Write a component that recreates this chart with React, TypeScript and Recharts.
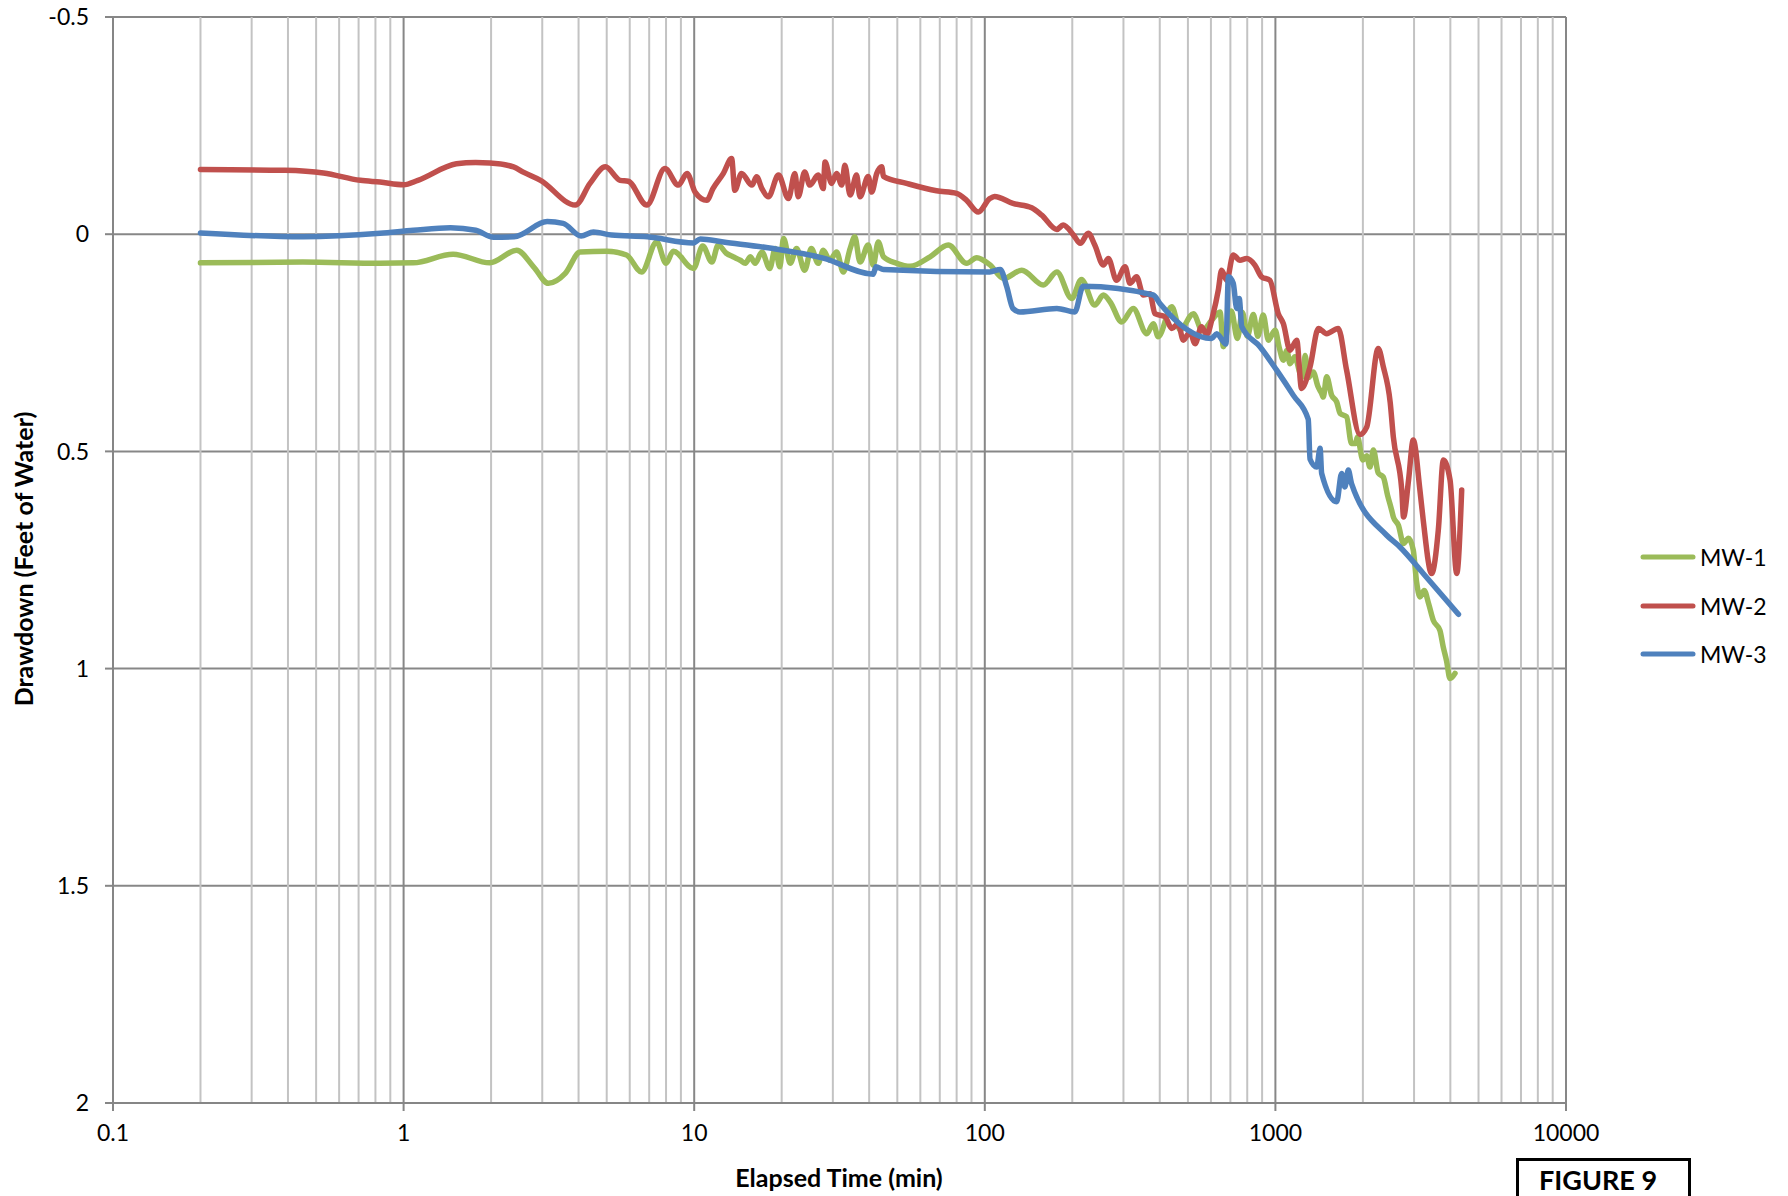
import React from 'react';
import { LineChart, Line, XAxis, YAxis, CartesianGrid, ReferenceLine } from 'recharts';

// elapsed time (min) vs drawdown (ft)
const MW1: [number, number][] = [
  [0.2, 0.066], [0.45, 0.064], [0.83, 0.067], [1.08, 0.066], [1.48, 0.046], [1.98, 0.066],
  [2.45, 0.037], [2.8, 0.075], [3.15, 0.113], [3.6, 0.09], [4.05, 0.041], [5.0, 0.039],
  [5.85, 0.048], [6.59, 0.087], [7.43, 0.018], [8.0, 0.067], [8.47, 0.039], [9.94, 0.079],
  [10.7, 0.027], [11.5, 0.064], [12.1, 0.025], [12.9, 0.044], [13.6, 0.052], [14.4, 0.06],
  [15.0, 0.067], [15.6, 0.052], [16.2, 0.067], [17.1, 0.041], [18.2, 0.079], [19.0, 0.033],
  [19.7, 0.075], [20.3, 0.01], [21.4, 0.067], [22.5, 0.033], [24.0, 0.083], [25.3, 0.033],
  [26.7, 0.067], [27.8, 0.037], [29.3, 0.06], [30.9, 0.041], [32.6, 0.087], [34.4, 0.033],
  [35.7, 0.006], [37.2, 0.064], [39.7, 0.025], [41.3, 0.071], [43.0, 0.018], [44.8, 0.052],
  [49.8, 0.067], [55.3, 0.074], [64.8, 0.052], [74.9, 0.025], [86.6, 0.067], [93.8, 0.054],
  [104, 0.07], [116, 0.102], [134, 0.083], [159, 0.117], [177, 0.087], [199, 0.148],
  [215, 0.104], [239, 0.163], [256, 0.14], [270, 0.156], [296, 0.202], [324, 0.171],
  [361, 0.229], [380, 0.206], [395, 0.236], [440, 0.167], [470, 0.22], [522, 0.183],
  [560, 0.222], [604, 0.198], [645, 0.179], [662, 0.259], [705, 0.177], [740, 0.24],
  [770, 0.18], [800, 0.235], [840, 0.185], [870, 0.235], [908, 0.186], [946, 0.244],
  [998, 0.221], [1030, 0.26], [1065, 0.29], [1095, 0.268], [1123, 0.298], [1167, 0.282],
  [1216, 0.32], [1248, 0.328], [1265, 0.279], [1300, 0.33], [1349, 0.317], [1400, 0.35],
  [1443, 0.367], [1461, 0.375], [1501, 0.328], [1560, 0.37], [1625, 0.386], [1671, 0.413],
  [1758, 0.42], [1828, 0.482], [1888, 0.482], [1915, 0.467], [2000, 0.52], [2061, 0.51],
  [2115, 0.536], [2173, 0.497], [2260, 0.55], [2351, 0.559], [2430, 0.6], [2511, 0.635],
  [2546, 0.651], [2650, 0.67], [2760, 0.712], [2870, 0.7], [2981, 0.727], [3060, 0.8],
  [3143, 0.835], [3250, 0.82], [3366, 0.85], [3495, 0.889], [3682, 0.912], [3780, 0.95],
  [3878, 0.981], [3990, 1.023], [4150, 1.011],
];

const MW2: [number, number][] = [
  [0.2, -0.149], [0.39, -0.147], [0.53, -0.141], [0.71, -0.124], [0.83, -0.12], [1.0, -0.114],
  [1.12, -0.124], [1.52, -0.162], [1.77, -0.165], [1.98, -0.164], [2.39, -0.155], [2.58, -0.143],
  [2.96, -0.124], [3.9, -0.067], [4.38, -0.117], [4.95, -0.155], [5.56, -0.124], [5.93, -0.122],
  [6.87, -0.067], [7.93, -0.151], [8.82, -0.113], [9.45, -0.14], [10.07, -0.097], [11.05, -0.078],
  [11.6, -0.105], [12.6, -0.14], [13.45, -0.174], [13.8, -0.101], [14.55, -0.14], [15.8, -0.113],
  [16.4, -0.132], [17.1, -0.105], [18.0, -0.086], [19.5, -0.136], [21.1, -0.082], [22.2, -0.14],
  [22.8, -0.086], [24.0, -0.143], [25.0, -0.113], [26.7, -0.136], [27.8, -0.105], [28.2, -0.166],
  [29.7, -0.117], [30.9, -0.14], [32.2, -0.113], [33.0, -0.159], [34.4, -0.09], [36.2, -0.136],
  [37.2, -0.086], [39.7, -0.133], [40.8, -0.097], [42.5, -0.14], [44.2, -0.155], [44.8, -0.133],
  [53.8, -0.117], [68.2, -0.1], [80.0, -0.094], [86.6, -0.078], [95, -0.051], [104, -0.082],
  [108, -0.087], [125, -0.071], [145, -0.061], [157, -0.044], [177, -0.011], [186, -0.021],
  [202, 0.002], [213, 0.021], [227, -0.002], [239, 0.025], [256, 0.071], [266, 0.056],
  [284, 0.106], [304, 0.075], [316, 0.113], [333, 0.098], [351, 0.14], [370, 0.137],
  [385, 0.183], [417, 0.19], [440, 0.217], [463, 0.206], [482, 0.244], [508, 0.225],
  [529, 0.252], [557, 0.213], [580, 0.231], [611, 0.183], [636, 0.129], [653, 0.083],
  [680, 0.106], [716, 0.048], [755, 0.06], [796, 0.056], [850, 0.071], [896, 0.098],
  [957, 0.106], [1023, 0.183], [1065, 0.206], [1123, 0.267], [1184, 0.244], [1230, 0.355],
  [1316, 0.305], [1406, 0.217], [1501, 0.229], [1645, 0.217], [1758, 0.313], [1954, 0.461],
  [2061, 0.444], [2259, 0.263], [2351, 0.305], [2483, 0.387], [2546, 0.467], [2722, 0.589],
  [2760, 0.651], [2872, 0.566], [2981, 0.474], [3143, 0.589], [3226, 0.658], [3448, 0.781],
  [3636, 0.681], [3784, 0.52], [3990, 0.566], [4207, 0.781], [4376, 0.589],
];

const MW3: [number, number][] = [
  [0.2, -0.003], [0.45, 0.006], [0.83, -0.002], [1.08, -0.009], [1.45, -0.015], [1.77, -0.009],
  [2.04, 0.007], [2.4, 0.006], [3.12, -0.029], [3.54, -0.025], [4.08, 0.004], [4.5, -0.005],
  [5.2, 0.002], [6.9, 0.006], [9.94, 0.02], [10.5, 0.011], [12.6, 0.018], [18.7, 0.033],
  [27.8, 0.055], [41.3, 0.092], [42.2, 0.075], [44.8, 0.081], [104, 0.087], [113, 0.081],
  [119, 0.121], [125, 0.171], [132, 0.179], [177, 0.171], [204, 0.179], [218, 0.12],
  [380, 0.14], [401, 0.16], [604, 0.24], [628, 0.229], [676, 0.253], [689, 0.098],
  [716, 0.113], [736, 0.171], [751, 0.148], [766, 0.213], [885, 0.259], [1010, 0.313],
  [1153, 0.371], [1297, 0.426], [1316, 0.518], [1387, 0.536], [1425, 0.493], [1443, 0.551],
  [1625, 0.616], [1690, 0.551], [1734, 0.582], [1782, 0.543], [1828, 0.574], [2415, 0.693],
  [2682, 0.72], [3226, 0.781], [4266, 0.875],
];

const X_TICKS = [0.1, 1, 10, 100, 1000, 10000];
const Y_TICKS = [-0.5, 0, 0.5, 1, 1.5, 2];
const MINOR_STEPS = [2, 3, 4, 5, 6, 7, 8, 9];

const SERIES = [
  { name: 'MW-1', color: '#9BBB59', points: MW1 },
  { name: 'MW-2', color: '#C0504D', points: MW2 },
  { name: 'MW-3', color: '#4F81BD', points: MW3 },
];

const minorLines = X_TICKS.slice(0, -1).flatMap((d) => MINOR_STEPS.map((k) => +(d * k).toPrecision(3)));
const majorLines = X_TICKS.slice(1);

const FONT = 'Lato, "Open Sans", sans-serif';

export default function App() {
  return (
    <div style={{ position: 'absolute', left: 0, top: 0, width: 1788, height: 1196, overflow: 'hidden', background: '#fff', fontFamily: FONT }}>
      <LineChart width={1788} height={1196} margin={{ top: 17, right: 222, bottom: 33, left: 53 }}>
        <CartesianGrid vertical={false} stroke="#878787" strokeWidth={2} />
        {minorLines.map((v) => (
          <ReferenceLine key={'m' + v} x={v} stroke="#c3c3c3" strokeWidth={2} />
        ))}
        {majorLines.map((v) => (
          <ReferenceLine key={'M' + v} x={v} stroke="#878787" strokeWidth={2} />
        ))}
        <XAxis
          dataKey="t"
          type="number"
          scale="log"
          domain={[0.1, 10000]}
          ticks={X_TICKS}
          allowDataOverflow
          height={60}
          tickSize={8}
          tickMargin={14}
          tick={{ fill: '#000', fontSize: 23 }}
          axisLine={{ stroke: '#868686', strokeWidth: 2 }}
          tickLine={{ stroke: '#868686', strokeWidth: 2 }}
        />
        <YAxis
          type="number"
          domain={[-0.5, 2]}
          ticks={Y_TICKS}
          reversed
          allowDataOverflow
          width={60}
          tickSize={8}
          tickMargin={16}
          tick={{ fill: '#000', fontSize: 23 }}
          axisLine={{ stroke: '#868686', strokeWidth: 2 }}
          tickLine={{ stroke: '#868686', strokeWidth: 2 }}
        />
        {SERIES.map((s) => (
          <Line
            key={s.name}
            name={s.name}
            data={s.points.map(([t, d]) => ({ t, d }))}
            dataKey="d"
            type="monotone"
            stroke={s.color}
            strokeWidth={5.5}
            strokeLinecap="round"
            strokeLinejoin="round"
            dot={false}
            activeDot={false}
            isAnimationActive={false}
          />
        ))}
      </LineChart>

      <div style={{ position: 'absolute', left: 839, top: 1177, transform: 'translate(-50%, -50%)', fontSize: 25, fontWeight: 700, whiteSpace: 'nowrap' }}>
        Elapsed Time (min)
      </div>
      <div style={{ position: 'absolute', left: 23, top: 559, transform: 'translate(-50%, -50%) rotate(-90deg)', fontSize: 25, fontWeight: 700, whiteSpace: 'nowrap' }}>
        Drawdown (Feet of Water)
      </div>

      <div style={{ position: 'absolute', left: 1640, top: 533 }}>
        {SERIES.map((s) => (
          <div key={s.name} style={{ display: 'flex', alignItems: 'center', height: 48.5, fontSize: 23 }}>
            <svg width={56} height={10} style={{ marginRight: 4 }}>
              <line x1={3} y1={5} x2={53} y2={5} stroke={s.color} strokeWidth={5} strokeLinecap="round" />
            </svg>
            <span>{s.name}</span>
          </div>
        ))}
      </div>

      <div style={{ position: 'absolute', left: 1516, top: 1158, width: 169, height: 40, border: '3px solid #000', boxSizing: 'content-box' }}>
        <div style={{ fontSize: 27, fontWeight: 700, lineHeight: 1, paddingTop: 5, paddingLeft: 20 }}>FIGURE 9</div>
      </div>
    </div>
  );
}
